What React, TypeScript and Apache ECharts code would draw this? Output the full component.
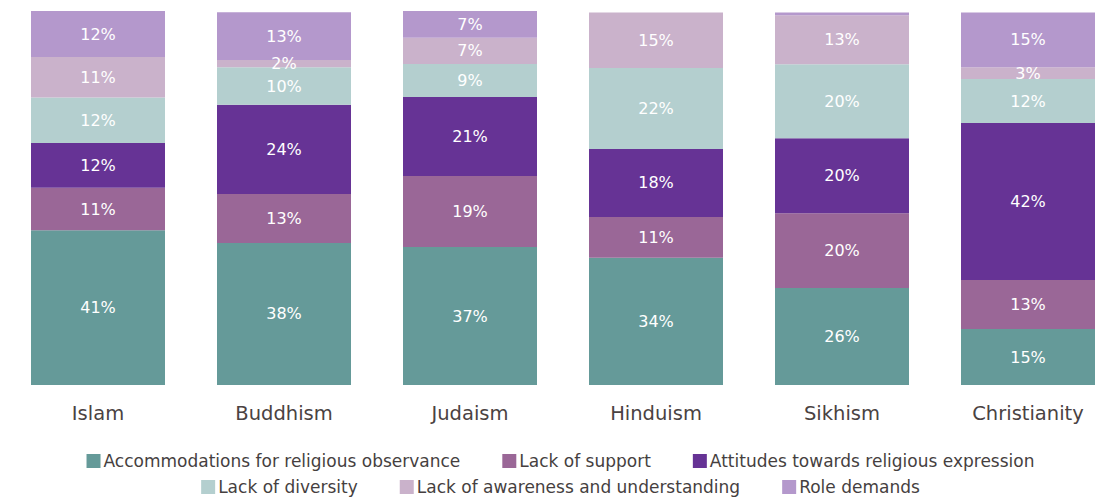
import React, { useEffect, useRef } from "react";
import * as echarts from "echarts";

const categories = ["Islam", "Buddhism", "Judaism", "Hinduism", "Sikhism", "Christianity"];

const seriesNames = [
  "Accommodations for religious observance",
  "Lack of support",
  "Attitudes towards religious expression",
  "Lack of diversity",
  "Lack of awareness and understanding",
  "Role demands",
];

const accommodations = [41.49, 38.1, 37.0, 34.16, 26.0, 15.0];
const lackOfSupport = [11.4, 13.15, 19.05, 10.9, 20.1, 13.15];
const attitudes = [12.0, 23.9, 21.2, 18.25, 20.1, 42.1];
const lackOfDiversity = [12.2, 10.1, 8.85, 21.7, 19.85, 11.8];
const lackOfAwareness = [10.9, 1.96, 7.06, 14.9, 13.15, 3.2];
const roleDemands = [12.3, 12.8, 7.16, 0, 0.72, 14.7];

const colors = ["#659a99", "#9a6797", "#663395", "#b4cfcf", "#cab2cb", "#b498cc"];

const FONT = "DejaVu Sans";

export default function App() {
  const ref = useRef<HTMLDivElement>(null);
  useEffect(() => {
    if (!ref.current) return;
    const chart = echarts.init(ref.current, undefined, { renderer: "svg" });
    const allData = [accommodations, lackOfSupport, attitudes, lackOfDiversity, lackOfAwareness, roleDemands];
    const sums = categories.map((_, i) => allData.reduce((s, arr) => s + arr[i], 0));
    const maxSum = Math.max(...sums);
    const legendText = { fontFamily: FONT, fontSize: 17, lineHeight: 18, color: "#463f3f", padding: [0, 0, 0, -2] };
    chart.setOption({
      animation: false,
      backgroundColor: "#ffffff",
      color: colors,
      grid: { left: 5, right: 0, top: 11, height: 374 },
      legend: [
        {
          data: seriesNames.slice(0, 3),
          top: 452,
          left: "center",
          icon: "rect",
          itemWidth: 14,
          itemHeight: 14,
          itemGap: 42,
          padding: 0,
          textStyle: legendText,
        },
        {
          data: seriesNames.slice(3),
          top: 478,
          left: "center",
          icon: "rect",
          itemWidth: 14,
          itemHeight: 14,
          itemGap: 42,
          padding: 0,
          textStyle: legendText,
        },
      ],
      xAxis: {
        type: "category",
        data: categories,
        axisLine: { show: false },
        axisTick: { show: false },
        axisLabel: { fontFamily: FONT, fontSize: 19.5, color: "#4a4242", margin: 18 },
      },
      yAxis: {
        type: "value",
        min: 0,
        max: maxSum,
        show: false,
        splitLine: { show: false },
      },
      series: allData.map((arr, idx) => ({
        name: seriesNames[idx],
        type: "bar",
        stack: "total",
        barWidth: 134,
        data: arr,
        itemStyle: { color: colors[idx] },
        label: {
          show: true,
          position: "inside",
          color: "#ffffff",
          fontFamily: FONT,
          fontSize: 16,
          formatter: (p: any) => (p.value < 1.5 ? "" : Math.round(p.value) + "%"),
        },
      })),
    });
    return () => chart.dispose();
  }, []);
  return (
    <div
      style={{ position: "fixed", left: 0, top: 0, width: 1103, height: 497, overflow: "hidden", background: "#ffffff" }}
    >
      <div ref={ref} style={{ width: 1121, height: 497 }} />
    </div>
  );
}
